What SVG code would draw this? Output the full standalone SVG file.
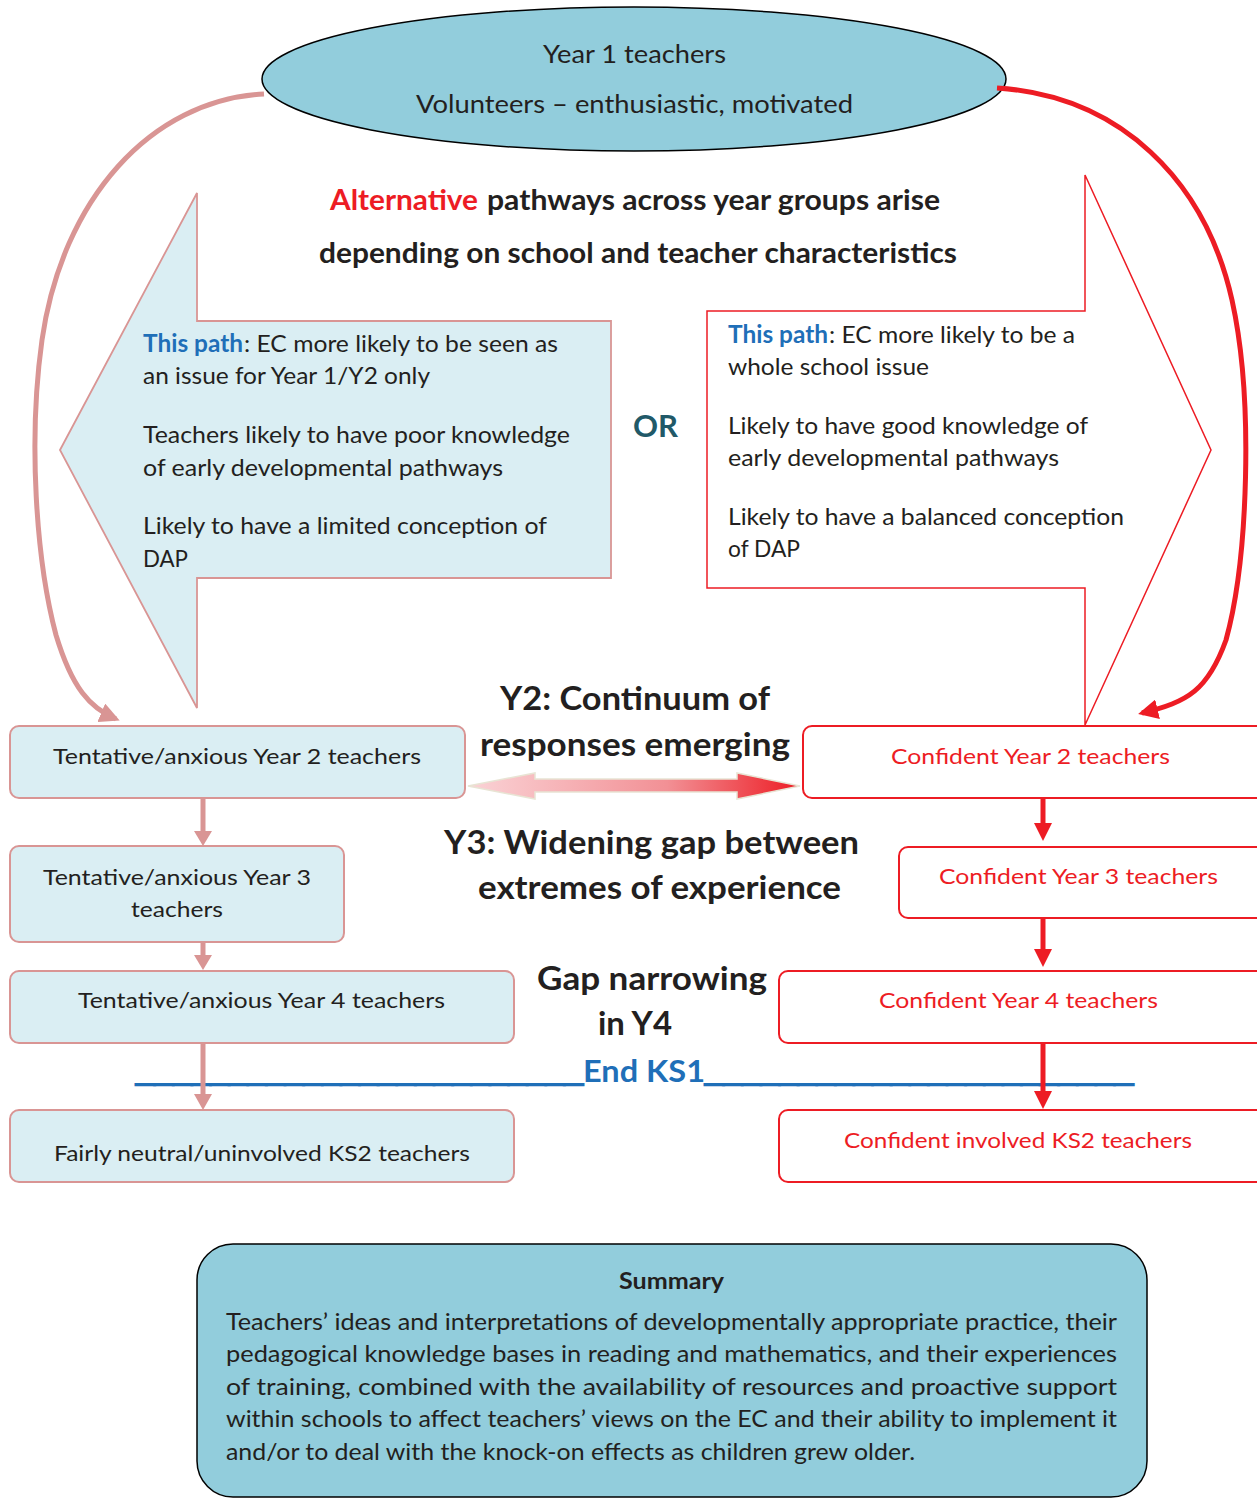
<svg xmlns="http://www.w3.org/2000/svg" width="1257" height="1500" viewBox="0 0 1257 1500">
<defs>
<style>
text{font-family:Lato,"Open Sans","Liberation Sans",sans-serif;fill:#231F20}
.b{font-weight:bold}
.blue{fill:#1F6FB8}
.red{fill:#ED1C24}
.body{font-size:24px}
.box{font-size:22px}
.mid{font-size:32px;font-weight:bold}
.sum{font-size:23px}
.us{font-family:"Liberation Sans",Arial,sans-serif;font-size:30px;font-weight:bold;fill:#1F6FB8;stroke:#1F6FB8;stroke-width:2.2}
.lbox{fill:#DAEEF3;stroke:#D99594;stroke-width:2}
.rbox{fill:#FFFFFF;stroke:#ED1C24;stroke-width:2}
.lcon{stroke:#D99594;stroke-width:5;fill:none}
.rcon{stroke:#ED1C24;stroke-width:5;fill:none}
.lhead{fill:#D99594}
.rhead{fill:#ED1C24}
</style>
<marker id="ahL" viewBox="0 0 10 10" refX="8" refY="5" markerWidth="4" markerHeight="4" orient="auto" markerUnits="strokeWidth">
<path d="M0,0 L10,5 L0,10 Z" fill="#D99594"/>
</marker>
<marker id="ahR" viewBox="0 0 10 10" refX="8" refY="5" markerWidth="4" markerHeight="4" orient="auto" markerUnits="strokeWidth">
<path d="M0,0 L10,5 L0,10 Z" fill="#ED1C24"/>
</marker>
<linearGradient id="grad" x1="468" y1="0" x2="800" y2="0" gradientUnits="userSpaceOnUse">
<stop offset="0" stop-color="#FAD3D6"/>
<stop offset="0.6" stop-color="#F29095"/>
<stop offset="1" stop-color="#ED1C24"/>
</linearGradient>
</defs>

<g id="year1">
<ellipse cx="634" cy="79" rx="372" ry="72" fill="#92CDDC" stroke="#000" stroke-width="1.5"/>
<text x="543" y="63" font-size="24.5" textLength="183" lengthAdjust="spacingAndGlyphs">Year 1 teachers</text>
<text x="416" y="113" font-size="24.5" textLength="437" lengthAdjust="spacingAndGlyphs">Volunteers – enthusiastic, motivated</text>
</g>

<g id="title">
<text x="330" y="210" font-size="28" class="b red" textLength="148" lengthAdjust="spacingAndGlyphs">Alternative</text>
<text x="487" y="210" font-size="28" class="b" textLength="453" lengthAdjust="spacingAndGlyphs">pathways across year groups arise</text>
<text x="319" y="263" font-size="28" class="b" textLength="638" lengthAdjust="spacingAndGlyphs">depending on school and teacher characteristics</text>
</g>

<g id="left-path">
<polygon points="60,450 197,193 197,321 611,321 611,578 197,578 197,708" fill="#DAEEF3" stroke="#D99594" stroke-width="1.8"/>
<text x="143" y="352" class="body b blue" textLength="100" lengthAdjust="spacingAndGlyphs">This path</text>
<text x="244" y="352" class="body" textLength="314" lengthAdjust="spacingAndGlyphs">: EC more likely to be seen as</text>
<text x="143" y="384" class="body" textLength="287" lengthAdjust="spacingAndGlyphs">an issue for Year 1/Y2 only</text>
<text x="143" y="443" class="body" textLength="427" lengthAdjust="spacingAndGlyphs">Teachers likely to have poor knowledge</text>
<text x="143" y="476" class="body" textLength="360" lengthAdjust="spacingAndGlyphs">of early developmental pathways</text>
<text x="143" y="534" class="body" textLength="404" lengthAdjust="spacingAndGlyphs">Likely to have a limited conception of</text>
<text x="143" y="567" class="body" textLength="45" lengthAdjust="spacingAndGlyphs">DAP</text>
</g>

<g id="or">
<text x="633" y="437" font-size="30" class="b" style="fill:#215968" textLength="45" lengthAdjust="spacingAndGlyphs">OR</text>
</g>

<g id="right-path">
<polygon points="707,311 1085,311 1085,175 1211,450 1085,725 1085,588 707,588" fill="#FFFFFF" stroke="#ED1C24" stroke-width="1.5"/>
<text x="728" y="343" class="body b blue" textLength="100" lengthAdjust="spacingAndGlyphs">This path</text>
<text x="829" y="343" class="body" textLength="246" lengthAdjust="spacingAndGlyphs">: EC more likely to be a</text>
<text x="728" y="375" class="body" textLength="201" lengthAdjust="spacingAndGlyphs">whole school issue</text>
<text x="728" y="434" class="body" textLength="360" lengthAdjust="spacingAndGlyphs">Likely to have good knowledge of</text>
<text x="728" y="466" class="body" textLength="331" lengthAdjust="spacingAndGlyphs">early developmental pathways</text>
<text x="728" y="525" class="body" textLength="396" lengthAdjust="spacingAndGlyphs">Likely to have a balanced conception</text>
<text x="728" y="557" class="body" textLength="72" lengthAdjust="spacingAndGlyphs">of DAP</text>
</g>

<g id="end-ks1">
<text x="136" y="1082" class="us" textLength="447" lengthAdjust="spacingAndGlyphs">________________________</text>
<text x="583" y="1082" font-size="30" class="b blue" textLength="122" lengthAdjust="spacingAndGlyphs">End KS1</text>
<text x="705" y="1082" class="us" textLength="428" lengthAdjust="spacingAndGlyphs">_______________________</text>
</g>

<g id="connectors">
<path class="lcon" d="M264,94 C150,100 62,200 42,340 C28,440 36,560 56,635 C72,688 90,708 116,719" marker-end="url(#ahL)"/>
<path class="rcon" d="M997,88 C1120,96 1205,180 1232,300 C1254,400 1248,560 1226,640 C1208,690 1188,702 1142,713" marker-end="url(#ahR)"/>
<line class="lcon" x1="203" y1="798" x2="203" y2="833"/>
<polygon class="lhead" points="194,831 212,831 203,846"/>
<line class="lcon" x1="203" y1="942" x2="203" y2="957"/>
<polygon class="lhead" points="194,955 212,955 203,970"/>
<line class="lcon" x1="203" y1="1043" x2="203" y2="1096"/>
<polygon class="lhead" points="194,1094 212,1094 203,1110"/>
<line class="rcon" x1="1043" y1="798" x2="1043" y2="826"/>
<polygon class="rhead" points="1034,823 1052,823 1043,841"/>
<line class="rcon" x1="1043" y1="918" x2="1043" y2="952"/>
<polygon class="rhead" points="1034,949 1052,949 1043,967"/>
<line class="rcon" x1="1043" y1="1043" x2="1043" y2="1094"/>
<polygon class="rhead" points="1034,1091 1052,1091 1043,1109"/>
<polygon points="468,786 535,773 535,779 737,779 737,773 800,786 737,799 737,792 535,792 535,799" fill="url(#grad)" stroke="#E8E4D4" stroke-width="1.5"/>
</g>

<g id="tentative-y2">
<rect class="lbox" x="10" y="726" width="455" height="72" rx="9"/>
<text x="53" y="764" class="box" textLength="368" lengthAdjust="spacingAndGlyphs">Tentative/anxious Year 2 teachers</text>
</g>
<g id="tentative-y3">
<rect class="lbox" x="10" y="846" width="334" height="96" rx="9"/>
<text x="43" y="885" class="box" textLength="268" lengthAdjust="spacingAndGlyphs">Tentative/anxious Year 3</text>
<text x="131" y="917" class="box" textLength="92" lengthAdjust="spacingAndGlyphs">teachers</text>
</g>
<g id="tentative-y4">
<rect class="lbox" x="10" y="971" width="504" height="72" rx="9"/>
<text x="78" y="1008" class="box" textLength="367" lengthAdjust="spacingAndGlyphs">Tentative/anxious Year 4 teachers</text>
</g>
<g id="neutral-ks2">
<rect class="lbox" x="10" y="1110" width="504" height="72" rx="9"/>
<text x="54" y="1161" class="box" textLength="416" lengthAdjust="spacingAndGlyphs">Fairly neutral/uninvolved KS2 teachers</text>
</g>

<g id="confident-y2">
<rect class="rbox" x="803" y="726" width="470" height="72" rx="9"/>
<text x="891" y="764" class="box red" textLength="279" lengthAdjust="spacingAndGlyphs">Confident Year 2 teachers</text>
</g>
<g id="confident-y3">
<rect class="rbox" x="899" y="847" width="374" height="71" rx="9"/>
<text x="939" y="884" class="box red" textLength="279" lengthAdjust="spacingAndGlyphs">Confident Year 3 teachers</text>
</g>
<g id="confident-y4">
<rect class="rbox" x="779" y="971" width="494" height="72" rx="9"/>
<text x="879" y="1008" class="box red" textLength="279" lengthAdjust="spacingAndGlyphs">Confident Year 4 teachers</text>
</g>
<g id="confident-ks2">
<rect class="rbox" x="779" y="1110" width="494" height="72" rx="9"/>
<text x="844" y="1148" class="box red" textLength="348" lengthAdjust="spacingAndGlyphs">Confident involved KS2 teachers</text>
</g>

<g id="stage-labels">
<text x="500" y="710" class="mid" textLength="270" lengthAdjust="spacingAndGlyphs">Y2: Continuum of</text>
<text x="480" y="756" class="mid" textLength="310" lengthAdjust="spacingAndGlyphs">responses emerging</text>
<text x="444" y="854" class="mid" textLength="415" lengthAdjust="spacingAndGlyphs">Y3: Widening gap between</text>
<text x="478" y="899" class="mid" textLength="363" lengthAdjust="spacingAndGlyphs">extremes of experience</text>
<text x="537" y="990" class="mid" textLength="230" lengthAdjust="spacingAndGlyphs">Gap narrowing</text>
<text x="598" y="1035" class="mid" textLength="74" lengthAdjust="spacingAndGlyphs">in Y4</text>
</g>

<g id="summary">
<rect x="197" y="1244" width="950" height="253" rx="36" fill="#92CDDC" stroke="#000" stroke-width="1.5"/>
<text x="619" y="1289" class="sum b" textLength="105" lengthAdjust="spacingAndGlyphs">Summary</text>
<text x="226" y="1330" class="sum" textLength="891" lengthAdjust="spacingAndGlyphs">Teachers’ ideas and interpretations of developmentally appropriate practice, their</text>
<text x="226" y="1362" class="sum" textLength="891" lengthAdjust="spacingAndGlyphs">pedagogical knowledge bases in reading and mathematics, and their experiences</text>
<text x="226" y="1395" class="sum" textLength="891" lengthAdjust="spacingAndGlyphs">of training, combined with the availability of resources and proactive support</text>
<text x="226" y="1427" class="sum" textLength="891" lengthAdjust="spacingAndGlyphs">within schools to affect teachers’ views on the EC and their ability to implement it</text>
<text x="226" y="1460" class="sum" textLength="689" lengthAdjust="spacingAndGlyphs">and/or to deal with the knock-on effects as children grew older.</text>
</g>
</svg>
